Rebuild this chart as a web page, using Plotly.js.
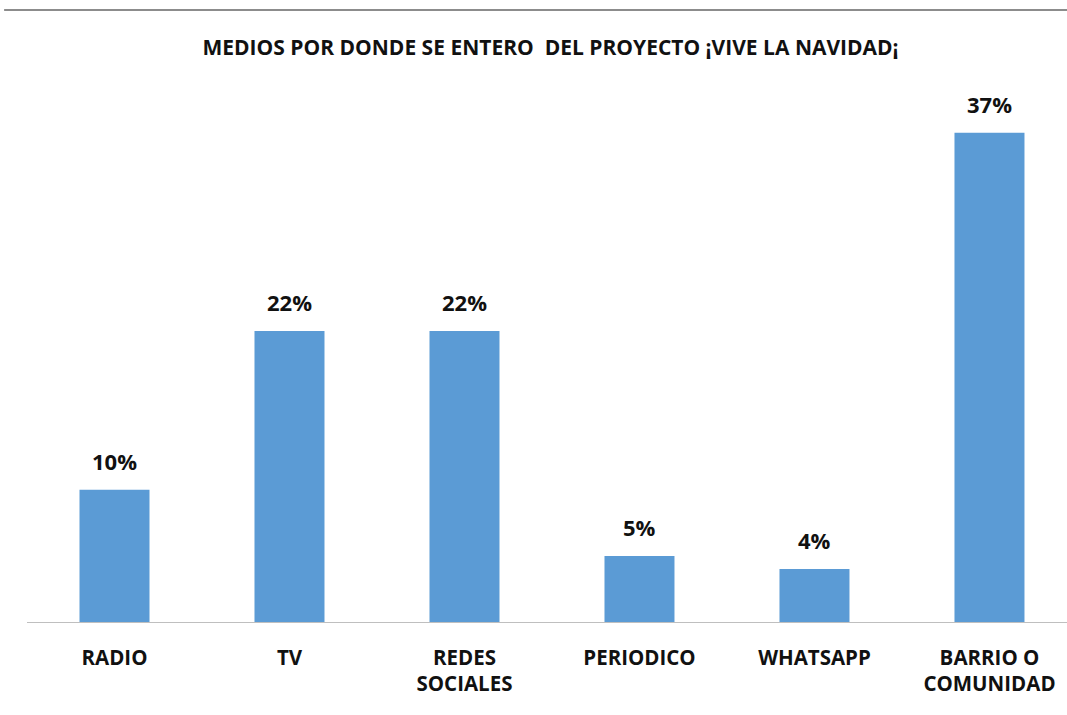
<!DOCTYPE html>
<html>
<head>
<meta charset="utf-8">
<script src="https://cdn.plot.ly/plotly-3.0.1.min.js"></script>
<style>html,body{margin:0;padding:0;background:#fff;}#chart{width:1067px;height:715px;}</style>
</head>
<body>
<div id="chart"></div>
<script>
const categories = ["RADIO", "TV", "REDES<br>SOCIALES", "PERIODICO", "WHATSAPP", "BARRIO O<br>COMUNIDAD"];
const values = [10, 22, 22, 5, 4, 37];
const valueLabels = ["10%", "22%", "22%", "5%", "4%", "37%"];
const chartTitle = "MEDIOS POR DONDE SE ENTERO  DEL PROYECTO ¡VIVE LA NAVIDAD¡";

const FONT = "Open Sans, Liberation Sans, sans-serif";

const trace = {
  type: "bar",
  x: categories,
  y: values,
  width: 0.4,
  marker: {color: "#5b9bd5"},
  hoverinfo: "none"
};

const annotations = categories.map((c, i) => ({
  x: c, y: values[i], xref: "x", yref: "y",
  text: "<b>" + valueLabels[i] + "</b>",
  showarrow: false, yanchor: "bottom", yshift: 12,
  font: {family: FONT, size: 22, color: "#111"}
}));

const layout = {
  width: 1067, height: 715,
  margin: {l: 27, r: 0, t: 93, b: 93},
  paper_bgcolor: "#fff", plot_bgcolor: "#fff",
  showlegend: false,
  title: {
    text: "<b>" + chartTitle + "</b>",
    x: 0.516, xanchor: "center", y: 0.934, yanchor: "middle",
    font: {family: FONT, size: 21, color: "#111"}
  },
  xaxis: {
    range: [-0.5, 5.443], fixedrange: true,
    showline: true, linecolor: "#bfbfbf", linewidth: 1,
    ticks: "", ticklabelstandoff: 17,
    tickfont: {family: FONT, size: 20.5, color: "#111", weight: "bold"},
    showgrid: false, zeroline: false
  },
  yaxis: {
    range: [0, 40], visible: false, showgrid: false, zeroline: false, fixedrange: true
  },
  annotations: annotations,
  shapes: [{
    type: "line", xref: "paper", yref: "paper",
    x0: -0.022, x1: 1, y0: 1.157, y1: 1.157,
    line: {color: "#8c8c8c", width: 2}
  }]
};

Plotly.newPlot("chart", [trace], layout, {displayModeBar: false, staticPlot: true});
</script>
</body>
</html>
